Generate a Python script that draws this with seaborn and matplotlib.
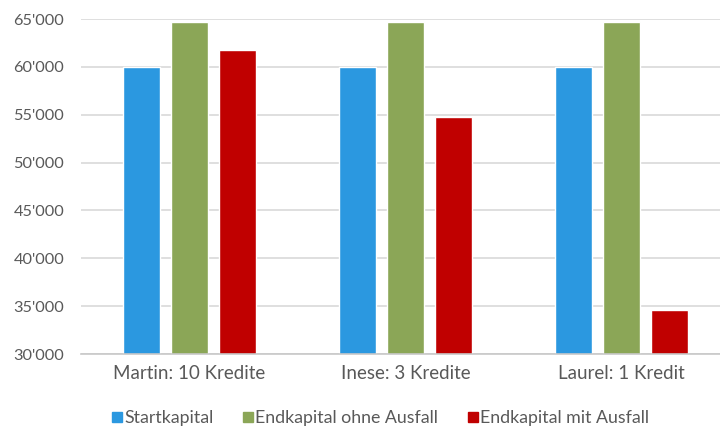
import matplotlib
matplotlib.use("Agg")
import matplotlib.pyplot as plt
from matplotlib.ticker import FuncFormatter, MultipleLocator
from matplotlib.lines import Line2D
import seaborn as sns
import pandas as pd

# Portfolio outcomes per investor
investors = ["Martin: 10 Kredite", "Inese: 3 Kredite", "Laurel: 1 Kredit"]
series = ["Startkapital", "Endkapital ohne Ausfall", "Endkapital mit Ausfall"]
startkapital = [60000, 60000, 60000]
ohne_ausfall = [64700, 64700, 64700]
mit_ausfall = [61800, 54800, 34600]
colors = ["#2b98e0", "#8ba657", "#c00000"]

df = pd.DataFrame({
    "Investor": investors * 3,
    "Serie": [s for s in series for _ in investors],
    "Wert": startkapital + ohne_ausfall + mit_ausfall,
})

sns.set_theme(style="white")
plt.rcParams["font.family"] = ["Lato", "DejaVu Sans"]

fig = plt.figure(figsize=(7.2, 4.28), dpi=100)
ax = fig.add_axes([81 / 720, 1 - 354 / 428, 649 / 720, (354 - 19) / 428])

sns.barplot(data=df, x="Investor", y="Wert", hue="Serie", order=investors,
            hue_order=series, palette=colors, width=0.666, gap=0.23,
            saturation=1, legend=False, ax=ax)

ax.set_ylim(30000, 65000)
ax.yaxis.set_major_locator(MultipleLocator(5000))
ax.yaxis.set_major_formatter(FuncFormatter(lambda v, _: f"{int(v):,}".replace(",", "'")))
ax.grid(axis="y", color="#d9d9d9", linewidth=1.2)
ax.set_axisbelow(True)
for side in ["top", "right", "left"]:
    ax.spines[side].set_visible(False)
ax.spines["bottom"].set_color("#c8c8c8")
ax.spines["bottom"].set_linewidth(1.2)
ax.set_xlabel("")
ax.set_ylabel("")
ax.tick_params(axis="both", length=0, labelcolor="#595959")
ax.tick_params(axis="y", pad=12, labelsize=11.8)
ax.tick_params(axis="x", pad=8, labelsize=13.5)

handles = [Line2D([], [], marker="s", linestyle="", markersize=7.5,
                  markerfacecolor=c, markeredgecolor=c) for c in colors]
fig.legend(handles, series, loc="center", ncol=3, frameon=False,
           bbox_to_anchor=(380 / 720, 1 - 418 / 428), fontsize=12.8,
           labelcolor="#595959", handletextpad=0.05, columnspacing=1.6,
           handlelength=0.7)

fig.savefig("out.png", dpi=100)
